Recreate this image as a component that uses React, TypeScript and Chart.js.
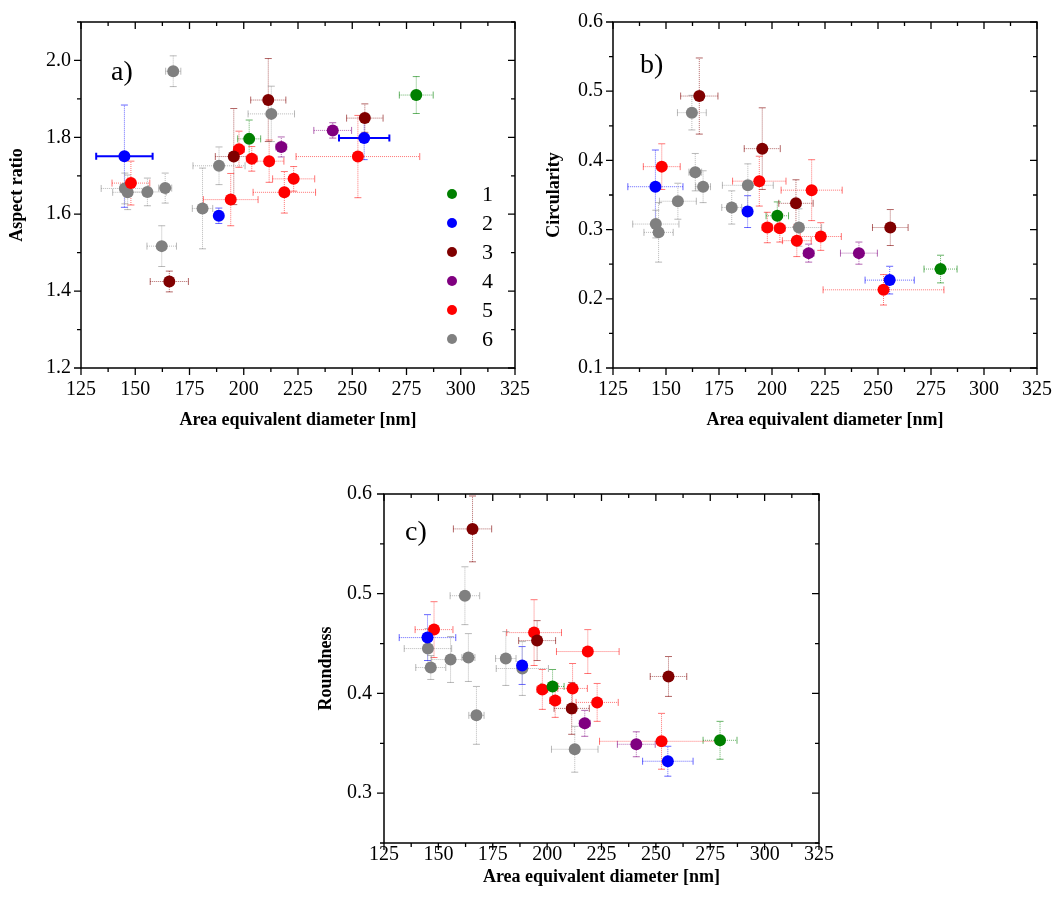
import React, { useEffect, useRef } from 'react';
import { Chart, registerables } from 'chart.js';

Chart.register(...registerables);

// ---------------- data ----------------
const GROUP_LABELS = ['1', '2', '3', '4', '5', '6'];
const GROUP_COLORS = ['#008000', '#0000ff', '#800000', '#800080', '#ff0000', '#808080'];
const ERR_COLORS = [
  'rgba(0,128,0,0.6)',
  'rgba(0,0,255,0.6)',
  'rgba(128,0,0,0.6)',
  'rgba(128,0,128,0.6)',
  'rgba(255,0,0,0.55)',
  'rgba(128,128,128,0.55)',
];

const X_TITLE = 'Area equivalent diameter [nm]';

// Area equivalent diameter [nm] per group
const diameter: number[][] = [
  [202.5, 279.5],
  [145, 188.5, 255.5],
  [165.7, 195.4, 211.3, 255.8],
  [217.3, 241],
  [148, 194, 197.8, 203.7, 211.7, 218.7, 223, 252.6],
  [145.2, 146.5, 155.6, 162.2, 163.8, 167.5, 181, 188.6, 212.7],
];
const diameterErr: number[][] = [
  [5.3, 7.8],
  [13, 1.5, 11.6],
  [8.8, 8.5, 8.1, 8.4],
  [2.5, 8.7],
  [8.7, 12.6, 2.5, 2.5, 6.8, 14.4, 9.7, 28.5],
  [10.9, 6.9, 8.7, 6.8, 3, 3.5, 4.7, 12, 10.7],
];

// a) Aspect ratio
const aspect: number[][] = [
  [1.796, 1.91],
  [1.751, 1.596, 1.798],
  [1.425, 1.75, 1.897, 1.85],
  [1.775, 1.818],
  [1.681, 1.638, 1.769, 1.744, 1.738, 1.657, 1.692, 1.75],
  [1.667, 1.657, 1.658, 1.517, 1.668, 1.972, 1.615, 1.726, 1.861],
];
const aspectErr: number[][] = [
  [0.049, 0.048],
  [0.133, 0.02, 0.056],
  [0.027, 0.125, 0.108, 0.037],
  [0.026, 0.02],
  [0.057, 0.068, 0.047, 0.032, 0.055, 0.054, 0.032, 0.107],
  [0.04, 0.045, 0.036, 0.053, 0.039, 0.04, 0.105, 0.049, 0.072],
];

// b) Circularity
const circularity: number[][] = [
  [0.32, 0.243],
  [0.362, 0.326, 0.227],
  [0.493, 0.417, 0.338, 0.303],
  [0.266, 0.266],
  [0.391, 0.37, 0.303, 0.302, 0.284, 0.357, 0.29, 0.213],
  [0.308, 0.296, 0.341, 0.469, 0.383, 0.362, 0.332, 0.364, 0.303],
];
const circularityErr: number[][] = [
  [0.02, 0.02],
  [0.053, 0.023, 0.02],
  [0.055, 0.059, 0.034, 0.026],
  [0.013, 0.016],
  [0.033, 0.036, 0.022, 0.02, 0.023, 0.044, 0.02, 0.022],
  [0.02, 0.043, 0.026, 0.025, 0.027, 0.023, 0.024, 0.031, 0.027],
];

// c) Roundness
const roundness: number[][] = [
  [0.407, 0.353],
  [0.456, 0.428, 0.332],
  [0.565, 0.453, 0.385, 0.417],
  [0.37, 0.349],
  [0.464, 0.461, 0.404, 0.393, 0.405, 0.442, 0.391, 0.352],
  [0.445, 0.426, 0.434, 0.498, 0.436, 0.378, 0.435, 0.425, 0.344],
];
const roundnessErr: number[][] = [
  [0.017, 0.019],
  [0.023, 0.019, 0.015],
  [0.033, 0.02, 0.026, 0.02],
  [0.013, 0.0125],
  [0.028, 0.033, 0.02, 0.017, 0.025, 0.022, 0.019, 0.028],
  [0.02, 0.012, 0.023, 0.029, 0.024, 0.029, 0.027, 0.027, 0.023],
];

// ---------------- plugins ----------------
const FONT = '"Liberation Serif", "Times New Roman", serif';

const isMajor = (v: number, major: number) => {
  const r = v / major;
  return Math.abs(r - Math.round(r)) < 1e-6;
};

const errorBarPlugin = {
  id: 'errbars',
  beforeDatasetsDraw(chart: any, _args: any, opts: any) {
    const { ctx, chartArea, scales } = chart;
    const xs = scales.x;
    const ys = scales.y;
    ctx.save();
    ctx.beginPath();
    ctx.rect(chartArea.left, chartArea.top, chartArea.right - chartArea.left, chartArea.bottom - chartArea.top);
    ctx.clip();
    const cap = 3.5;
    chart.data.datasets.forEach((ds: any, di: number) => {
      const col = ERR_COLORS[di];
      const solidX = (opts.solidX || []).includes(di);
      ds.data.forEach((p: any) => {
        const px = xs.getPixelForValue(p.x);
        const py = ys.getPixelForValue(p.y);
        const x0 = xs.getPixelForValue(p.x - p.xe);
        const x1 = xs.getPixelForValue(p.x + p.xe);
        const y0 = ys.getPixelForValue(p.y - p.ye);
        const y1 = ys.getPixelForValue(p.y + p.ye);
        // vertical
        ctx.strokeStyle = col;
        ctx.lineWidth = 1;
        ctx.setLineDash([1, 1]);
        ctx.beginPath();
        ctx.moveTo(px, y0);
        ctx.lineTo(px, y1);
        ctx.stroke();
        ctx.setLineDash([]);
        ctx.beginPath();
        ctx.moveTo(px - cap, y0);
        ctx.lineTo(px + cap, y0);
        ctx.moveTo(px - cap, y1);
        ctx.lineTo(px + cap, y1);
        ctx.stroke();
        // horizontal
        if (solidX) {
          ctx.strokeStyle = GROUP_COLORS[di];
          ctx.lineWidth = 2;
          ctx.setLineDash([]);
        } else {
          ctx.setLineDash([1, 1]);
        }
        ctx.beginPath();
        ctx.moveTo(x0, py);
        ctx.lineTo(x1, py);
        ctx.stroke();
        ctx.setLineDash([]);
        ctx.beginPath();
        ctx.moveTo(x0, py - cap);
        ctx.lineTo(x0, py + cap);
        ctx.moveTo(x1, py - cap);
        ctx.lineTo(x1, py + cap);
        ctx.stroke();
      });
    });
    ctx.restore();
  },
};

const framePlugin = {
  id: 'frame',
  afterDraw(chart: any, _args: any, opts: any) {
    const { ctx, chartArea, scales } = chart;
    const { left, right, top, bottom } = chartArea;
    const xs = scales.x;
    const ys = scales.y;
    const majLen = 7;
    const minLen = 4;
    ctx.save();
    ctx.strokeStyle = '#000';
    ctx.lineWidth = 1.5;
    ctx.strokeRect(left, top, right - left, bottom - top);
    ctx.lineWidth = 1.3;
    ctx.beginPath();
    xs.ticks.forEach((t: any) => {
      const len = isMajor(t.value - opts.xBase, opts.xMajor) ? majLen : minLen;
      const p = xs.getPixelForValue(t.value);
      ctx.moveTo(p, bottom);
      ctx.lineTo(p, bottom + len);
      ctx.moveTo(p, top);
      ctx.lineTo(p, top + len);
    });
    ys.ticks.forEach((t: any) => {
      const len = isMajor(t.value, opts.yMajor) ? majLen : minLen;
      const p = ys.getPixelForValue(t.value);
      ctx.moveTo(left, p);
      ctx.lineTo(left - len, p);
      ctx.moveTo(right, p);
      ctx.lineTo(right - len, p);
    });
    ctx.stroke();

    // panel tag
    ctx.fillStyle = '#000';
    ctx.font = `28px ${FONT}`;
    ctx.textAlign = 'left';
    ctx.textBaseline = 'alphabetic';
    ctx.fillText(opts.tag, left + opts.tagDx, top + opts.tagDy);

    // legend
    if (opts.legend) {
      const lg = opts.legend;
      chart.data.datasets.forEach((ds: any, i: number) => {
        const cy = lg.y + i * lg.dy;
        ctx.fillStyle = ds.backgroundColor;
        ctx.beginPath();
        ctx.arc(lg.x, cy, 5, 0, Math.PI * 2);
        ctx.fill();
        ctx.fillStyle = '#000';
        ctx.font = `22px ${FONT}`;
        ctx.textBaseline = 'middle';
        ctx.fillText(ds.label, lg.tx, cy + 1);
      });
    }
    ctx.restore();
  },
};

// ---------------- panel ----------------
type PanelProps = {
  left: number;
  top: number;
  width: number;
  height: number;
  yValues: number[][];
  yErrors: number[][];
  yMin: number;
  yMax: number;
  yStep: number;
  yMajor: number;
  yTitle: string;
  tag: string;
  tagDx: number;
  tagDy: number;
  padTop: number;
  padRight: number;
  yAxisWidth: number;
  xAxisHeight: number;
  xTickPad: number;
  xTitlePad: number;
  yTickPad: number;
  yTitlePad: number;
  legend?: { x: number; tx: number; y: number; dy: number };
  solidX?: number[];
};

function Panel(p: PanelProps) {
  const ref = useRef<HTMLCanvasElement | null>(null);
  useEffect(() => {
    if (!ref.current) return;
    const datasets = GROUP_LABELS.map((label, g) => ({
      label,
      data: diameter[g].map((d, i) => ({ x: d, y: p.yValues[g][i], xe: diameterErr[g][i], ye: p.yErrors[g][i] })),
      backgroundColor: GROUP_COLORS[g],
      borderColor: GROUP_COLORS[g],
      borderWidth: 0,
      pointRadius: 6,
      pointHoverRadius: 6,
    }));
    const chart = new Chart(ref.current, {
      type: 'scatter',
      data: { datasets } as any,
      plugins: [errorBarPlugin, framePlugin],
      options: {
        responsive: false,
        animation: false,
        devicePixelRatio: 1,
        events: [],
        layout: { padding: { top: p.padTop, right: p.padRight, bottom: 0, left: 0 } },
        plugins: {
          legend: { display: false },
          tooltip: { enabled: false },
          errbars: { solidX: p.solidX || [] },
          frame: {
            xMajor: 25,
            xBase: 0,
            yMajor: p.yMajor,
            tag: p.tag,
            tagDx: p.tagDx,
            tagDy: p.tagDy,
            legend: p.legend,
          },
        } as any,
        scales: {
          x: {
            type: 'linear',
            position: 'bottom',
            min: 125,
            max: 325,
            grid: { display: false, drawTicks: false },
            border: { display: false },
            ticks: {
              stepSize: 12.5,
              autoSkip: false,
              maxRotation: 0,
              includeBounds: false,
              padding: p.xTickPad,
              color: '#000',
              font: { family: FONT, size: 20 },
              callback: (v: any) => (isMajor(Number(v), 25) ? String(Math.round(Number(v))) : ''),
            },
            title: {
              display: true,
              text: X_TITLE,
              color: '#000',
              font: { family: FONT, size: 18, weight: 'bold' },
              padding: { top: 0, bottom: p.xTitlePad },
            },
            afterFit: (s: any) => {
              s.height = p.xAxisHeight;
            },
          },
          y: {
            type: 'linear',
            position: 'left',
            min: p.yMin,
            max: p.yMax,
            grid: { display: false, drawTicks: false },
            border: { display: false },
            ticks: {
              stepSize: p.yStep,
              autoSkip: false,
              includeBounds: false,
              padding: p.yTickPad,
              color: '#000',
              font: { family: FONT, size: 20 },
              callback: (v: any) => (isMajor(Number(v), p.yMajor) ? Number(v).toFixed(1) : ''),
            },
            title: {
              display: true,
              text: p.yTitle,
              color: '#000',
              font: { family: FONT, size: 18, weight: 'bold' },
              padding: { top: p.yTitlePad, bottom: 0 },
            },
            afterFit: (s: any) => {
              s.width = p.yAxisWidth;
            },
          },
        } as any,
      },
    });
    return () => chart.destroy();
  }, []);
  return (
    <canvas
      ref={ref}
      width={p.width}
      height={p.height}
      style={{ position: 'absolute', left: p.left, top: p.top, width: p.width, height: p.height }}
    />
  );
}

export default function App() {
  return (
    <div style={{ position: 'absolute', left: 0, top: 0, width: 1062, height: 901, background: '#fff', overflow: 'hidden' }}>
      <Panel
        left={0}
        top={0}
        width={540}
        height={440}
        yValues={aspect}
        yErrors={aspectErr}
        yMin={1.2}
        yMax={2.1}
        yStep={0.1}
        yMajor={0.2}
        yTitle="Aspect ratio"
        tag="a)"
        tagDx={30}
        tagDy={58}
        padTop={17}
        padRight={24}
        yAxisWidth={81}
        xAxisHeight={72}
        xTickPad={10}
        xTitlePad={9}
        yTickPad={10}
        yTitlePad={7}
        legend={{ x: 452, tx: 482, y: 194, dy: 29 }}
        solidX={[1]}
      />
      <Panel
        left={535}
        top={0}
        width={527}
        height={440}
        yValues={circularity}
        yErrors={circularityErr}
        yMin={0.1}
        yMax={0.6}
        yStep={0.05}
        yMajor={0.1}
        yTitle="Circularity"
        tag="b)"
        tagDx={27}
        tagDy={51}
        padTop={20}
        padRight={19}
        yAxisWidth={78}
        xAxisHeight={72}
        xTickPad={10}
        xTitlePad={9}
        yTickPad={10}
        yTitlePad={9}
      />
      <Panel
        left={300}
        top={470}
        width={540}
        height={431}
        yValues={roundness}
        yErrors={roundnessErr}
        yMin={0.25}
        yMax={0.6}
        yStep={0.05}
        yMajor={0.1}
        yTitle="Roundness"
        tag="c)"
        tagDx={21}
        tagDy={46}
        padTop={24}
        padRight={21}
        yAxisWidth={84}
        xAxisHeight={58}
        xTickPad={0}
        xTitlePad={13}
        yTickPad={12}
        yTitlePad={16}
      />
    </div>
  );
}
